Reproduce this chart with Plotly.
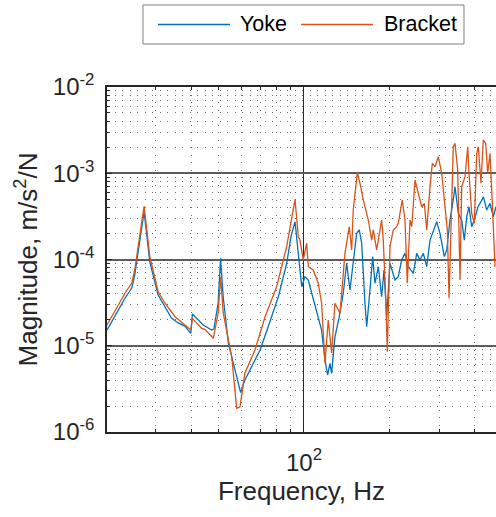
import plotly.graph_objects as go
import math

# ---------------- data ----------------
yoke_freq = [20.2, 23.4, 24.7, 25.3, 27.3, 28.6, 30.6, 34.1, 36.0, 38.0, 39.9, 40.4, 44.1, 47.3, 48.1,
             49.8, 50.8, 51.9, 54.1, 57.1, 59.8, 61.9, 65.4, 70.0, 74.8, 81.2, 86.9, 90.0, 93.0, 95.5,
             98.2, 100.8, 103.6, 106.5, 110.9, 115.4, 118.6, 121.2, 123.5, 125.2, 128.6, 133.2, 137.6,
             141.4, 145.3, 149.2, 153.4, 156.7, 159.8, 164.1, 166.4, 170.9, 174.7, 178.0, 182.9, 187.9,
             191.5, 195.7, 201.1, 209.4, 215.1, 221.1, 227.1, 233.3, 243.0, 249.8, 256.6, 263.6, 271.0,
             278.3, 285.9, 293.9, 301.8, 312.6, 318.8, 327.3, 336.2, 340.9, 350.2, 360.0, 367.7, 375.0,
             381.9, 390.4, 398.8, 411.0, 421.1, 429.1, 441.1, 453.0, 465.3, 475.6]
yoke_mag = [1.52e-5, 3.58e-5, 4.67e-5, 6.61e-5, 3.58e-4, 9.35e-5, 3.88e-5, 2.10e-5, 1.84e-5, 1.69e-5,
            1.39e-5, 2.33e-5, 1.74e-5, 1.52e-5, 1.56e-5, 3.11e-5, 1.03e-4, 3.70e-5, 1.07e-5, 5.23e-6,
            2.86e-6, 4.01e-6, 5.71e-6, 8.93e-6, 1.66e-5, 3.70e-5, 9.03e-5, 1.84e-4, 2.74e-4, 1.08e-4,
            4.84e-5, 6.32e-5, 5.78e-5, 4.06e-5, 2.38e-5, 1.52e-5, 6.84e-6, 4.58e-6, 6.26e-6, 4.79e-6,
            1.27e-5, 2.17e-5, 4.06e-5, 9.03e-5, 4.43e-5, 9.87e-5, 2.01e-4, 2.20e-4, 1.54e-4, 3.11e-5,
            1.66e-5, 4.43e-5, 1.08e-4, 5.30e-5, 8.25e-5, 3.70e-5, 7.55e-5, 2.17e-5, 9.03e-5, 5.78e-5,
            6.32e-5, 9.87e-5, 1.18e-4, 8.25e-5, 6.92e-5, 1.18e-4, 9.87e-5, 1.18e-4, 8.25e-5, 1.68e-4,
            2.20e-4, 2.74e-4, 2.01e-4, 1.08e-4, 1.29e-4, 2.87e-4, 4.90e-4, 6.98e-4, 3.43e-4, 2.87e-4,
            1.68e-4, 3.13e-4, 4.09e-4, 2.40e-4, 2.87e-4, 4.09e-4, 4.68e-4, 5.35e-4, 3.75e-4, 4.48e-4,
            3.13e-4, 4.09e-4]

bracket_freq = [20.2, 23.4, 24.7, 25.3, 27.3, 28.6, 30.6, 32.3, 35.1, 38.0, 39.9, 40.4, 43.6, 44.7, 47.9,
                49.8, 50.8, 51.9, 55.6, 57.9, 59.5, 61.9, 67.2, 72.9, 80.1, 86.9, 90.5, 93.0, 95.5, 96.8,
                99.4, 102.2, 103.6, 107.8, 112.3, 115.4, 118.6, 121.8, 125.2, 128.6, 134.0, 139.5, 144.5,
                147.3, 149.2, 154.2, 157.6, 161.9, 168.6, 173.3, 175.6, 180.5, 187.9, 190.4, 194.6, 196.7,
                201.1, 206.5, 212.3, 215.1, 222.2, 227.1, 231.4, 236.6, 239.9, 246.4, 253.1, 260.2, 265.7,
                271.0, 278.3, 283.6, 289.9, 297.7, 306.0, 314.4, 320.3, 324.8, 330.0, 336.2, 340.9, 348.5,
                355.1, 360.0, 369.8, 378.0, 381.9, 390.4, 398.8, 406.6, 412.0, 421.1, 429.1, 437.5, 444.6,
                453.0, 461.6, 471.8]
bracket_mag = [1.74e-5, 4.09e-5, 5.34e-5, 7.55e-5, 4.17e-4, 1.08e-4, 4.23e-5, 3.13e-5, 2.17e-5, 1.74e-5,
               1.52e-5, 2.08e-5, 1.59e-5, 1.55e-5, 1.22e-5, 2.38e-5, 6.32e-5, 2.40e-5, 7.46e-6, 1.88e-6,
               1.96e-6, 4.83e-6, 8.93e-6, 2.17e-5, 4.84e-5, 1.41e-4, 3.13e-4, 4.99e-4, 1.84e-4, 1.68e-4,
               9.87e-5, 1.55e-4, 8.25e-5, 7.55e-5, 5.30e-5, 3.11e-5, 6.26e-6, 1.99e-5, 8.24e-6, 3.11e-5,
               2.38e-5, 1.18e-4, 2.40e-4, 1.29e-4, 3.75e-4, 1.015e-3, 7.65e-4, 4.90e-4, 2.87e-4, 1.68e-4,
               2.20e-4, 1.29e-4, 2.87e-4, 1.68e-4, 3.11e-5, 8.53e-6, 1.41e-4, 2.20e-4, 2.40e-4, 2.63e-4,
               4.90e-4, 2.87e-4, 5.30e-5, 2.87e-4, 2.40e-4, 8.35e-4, 5.85e-4, 4.09e-4, 4.48e-4, 2.20e-4,
               6.98e-4, 1.304e-3, 1.191e-3, 1.555e-3, 9.99e-4, 4.48e-4, 2.20e-4, 3.55e-5, 2.87e-4, 2.03e-3,
               2.22e-3, 1.091e-3, 5.78e-5, 6.98e-4, 9.12e-4, 2.03e-3, 9.99e-4, 3.43e-4, 2.63e-4, 1.70e-3,
               2.03e-3, 7.65e-4, 2.43e-3, 2.22e-3, 9.99e-4, 1.70e-3, 4.48e-4, 8.25e-5]

series_names = ["Yoke", "Bracket"]
series_colors = ["#0072BD", "#D95319"]

y_tick_vals = [1e-6, 1e-5, 1e-4, 1e-3, 1e-2]
y_tick_text = ["10<sup>-6</sup>", "10<sup>-5</sup>", "10<sup>-4</sup>", "10<sup>-3</sup>", "10<sup>-2</sup>"]
x_tick_vals = [100]
x_tick_text = ["10<sup>2</sup>"]
x_limits = [20.2, 475.6]
y_limits = [1e-6, 1e-2]

# minor tick positions (2..9 times each decade)
x_minor = [m * 10 ** d for d in (1, 2) for m in range(2, 10)]
y_minor = [m * 10 ** d for d in (-6, -5, -4, -3) for m in range(2, 10)]

FONT = "Liberation Sans, Arial, Helvetica, sans-serif"
TXT = "#262626"

fig = go.Figure()
for name, xs, ys, col in zip(series_names, [yoke_freq, bracket_freq], [yoke_mag, bracket_mag], series_colors):
    fig.add_trace(go.Scatter(x=xs, y=ys, mode="lines", name=name, showlegend=False,
                             line=dict(color=col, width=1.3)))

axis_common = dict(
    showline=True, linecolor=TXT, linewidth=1.5,
    ticks="inside", ticklen=5, tickcolor=TXT, tickwidth=1,
    showgrid=True, zeroline=False, automargin=False,
    tickfont=dict(family=FONT, size=24, color=TXT),
)
minor_common = dict(ticks="inside", ticklen=3, tickcolor=TXT,
                    showgrid=True, gridcolor="#6e6e6e", gridwidth=1.2, griddash="1.2px,6.3px")

fig.update_xaxes(
    type="log", range=[math.log10(x_limits[0]), math.log10(x_limits[1])],
    tickvals=x_tick_vals, ticktext=x_tick_text, mirror="ticks",
    gridcolor="#2a2a2a", gridwidth=1,
    title=dict(text="Frequency, Hz", font=dict(family=FONT, size=26, color=TXT), standoff=6),
    minor=dict(tickvals=x_minor, **minor_common),
    ticklabelstandoff=8,
    **axis_common,
)
fig.update_yaxes(
    type="log", range=[math.log10(y_limits[0]), math.log10(y_limits[1])],
    tickvals=y_tick_vals, ticktext=y_tick_text, mirror=False,
    gridcolor="#5c5c5c", gridwidth=1.6,
    title=dict(text="Magnitude, m/s<sup>2</sup>/N", font=dict(family=FONT, size=26, color=TXT), standoff=8),
    minor=dict(tickvals=y_minor, **minor_common),
    ticklabelstandoff=6,
    **axis_common,
)

# legend drawn as a boxed row above the axes (paper coordinates)
leg_y = 1.1812
fig.add_shape(type="rect", xref="paper", yref="paper", x0=0.0925, x1=0.9177, y0=1.1246, y1=1.2377,
              line=dict(color="#7f7f7f", width=1), fillcolor="white", layer="above")
legend_slots = [(0.1311, 0.3162, 0.3368), (0.4987, 0.6838, 0.7069)]
for (lx0, lx1, tx), name, col in zip(legend_slots, series_names, series_colors):
    fig.add_shape(type="line", xref="paper", yref="paper", x0=lx0, x1=lx1, y0=leg_y, y1=leg_y,
                  line=dict(color=col, width=1.3), layer="above")
    fig.add_annotation(xref="paper", yref="paper", x=tx, y=leg_y, text=name, showarrow=False,
                       xanchor="left", yanchor="middle",
                       font=dict(family=FONT, size=21.5, color="#000000"))

fig.update_layout(
    width=496, height=517,
    margin=dict(l=107, r=0, t=87, b=85, pad=0),
    plot_bgcolor="white", paper_bgcolor="white",
    font=dict(family=FONT, color=TXT),
    showlegend=False,
)

fig.write_html("out.html", config={"displayModeBar": False},
               post_script="document.body.style.margin='0px';")
